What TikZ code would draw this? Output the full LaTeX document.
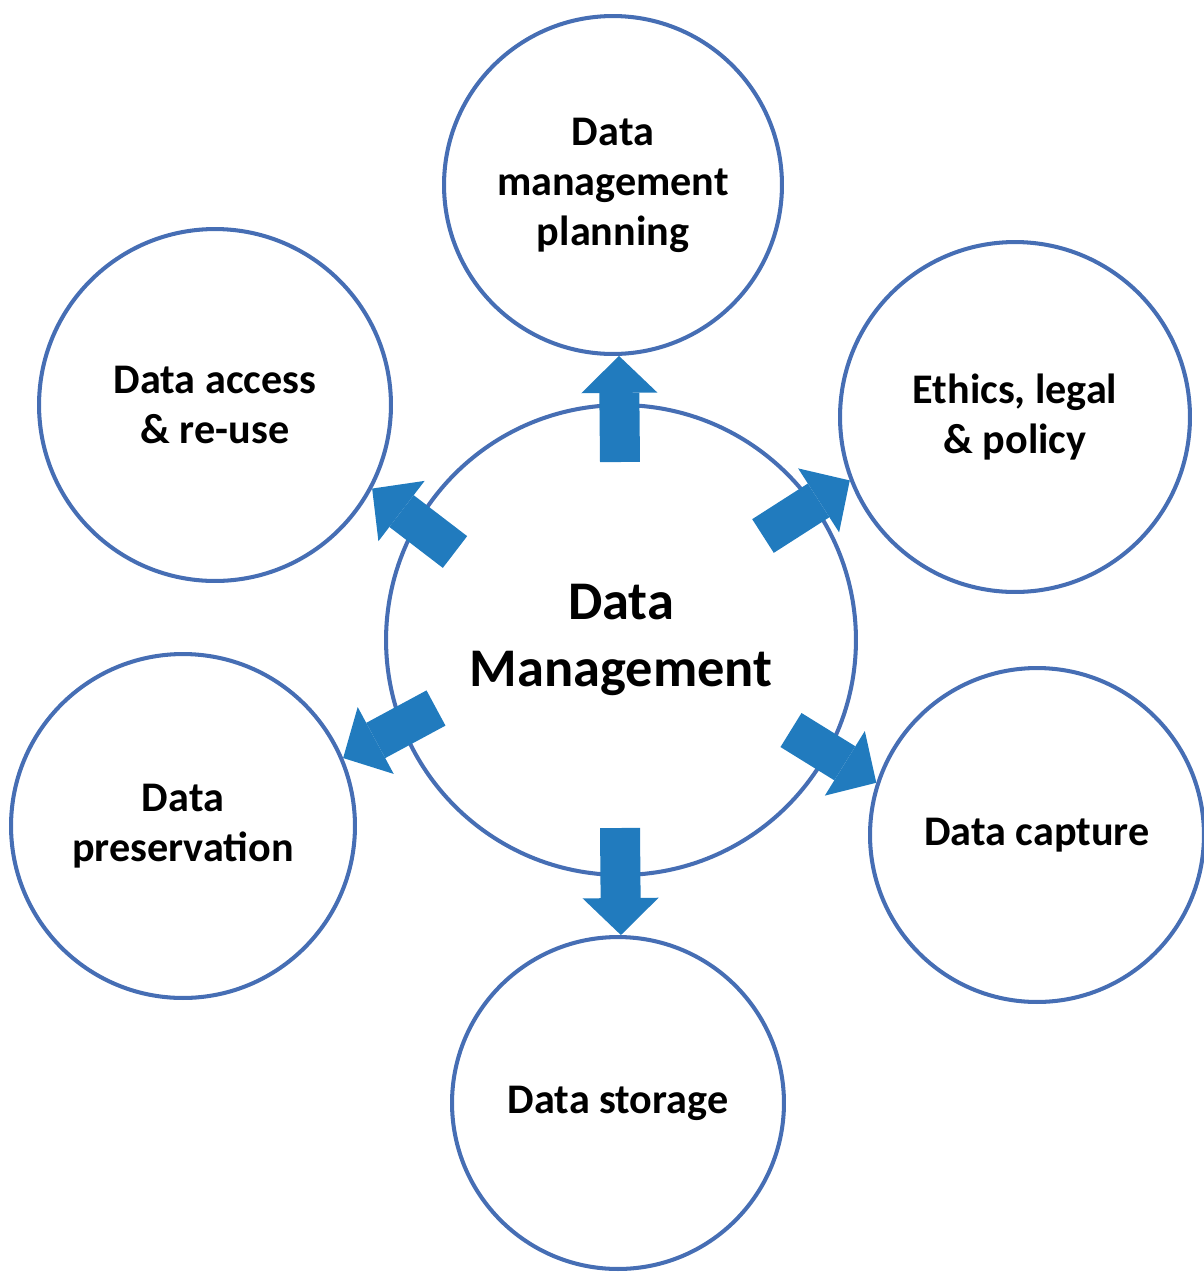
\documentclass[tikz,border=0pt]{standalone}
\usepackage{fontspec}
\setmainfont{Carlito}
\usetikzlibrary{arrows.meta,positioning}
\definecolor{ringblue}{RGB}{70,110,180}
\definecolor{arrowblue}{RGB}{33,123,190}

\begin{document}
\begin{tikzpicture}[x=0.02cm, y=-0.02cm,
    stage/.style={circle, draw=ringblue, line width=2.3pt, align=center, inner sep=0pt, font=\bfseries\fontsize{24}{28.5}\selectfont},
    flow/.style={draw=arrowblue, line width=0.8cm, -{Triangle[length=0.74cm, width=1.52cm, line width=0pt]}}]
    \useasboundingbox (0,0) rectangle (1204,1276);
    % centre and the six stages
    \node[stage, minimum size=9.4cm, font=\bfseries\fontsize{31}{38}\selectfont] (dm) at (621,640) {Data\\Management};
    \node[stage, minimum size=6.76cm] (plan) at (613,185) {Data\\management\\planning};
    \node[stage, minimum size=7cm] (ethics) at (1015,417) {Ethics, legal\\\& policy};
    \node[stage, minimum size=6.68cm] (capture) at (1037,835) {Data capture};
    \node[stage, minimum size=6.64cm] (storage) at (618,1103) {Data storage};
    \node[stage, minimum size=6.88cm] (pres) at (183,826) {Data\\preservation};
    \node[stage, minimum size=7.04cm] (access) at (215,405) {Data access\\\& re-use};
    % arrow tails on the centre
    \coordinate (tplan) at (620,462);
    \coordinate (tethics) at (763,536);
    \coordinate (tcapture) at (791,730);
    \coordinate (tstorage) at (620,828);
    \coordinate (tpres) at (436,708);
    \coordinate (taccess) at (455,552);
    \draw[flow] (tplan) -- (plan.272);
    \draw[flow] (tethics) -- (ethics.201);
    \draw[flow] (tcapture) -- (capture.162);
    \draw[flow] (tstorage) -- (storage.89);
    \draw[flow] (tpres) -- (pres.23);
    \draw[flow] (taccess) -- (access.332);
\end{tikzpicture}
\end{document}
